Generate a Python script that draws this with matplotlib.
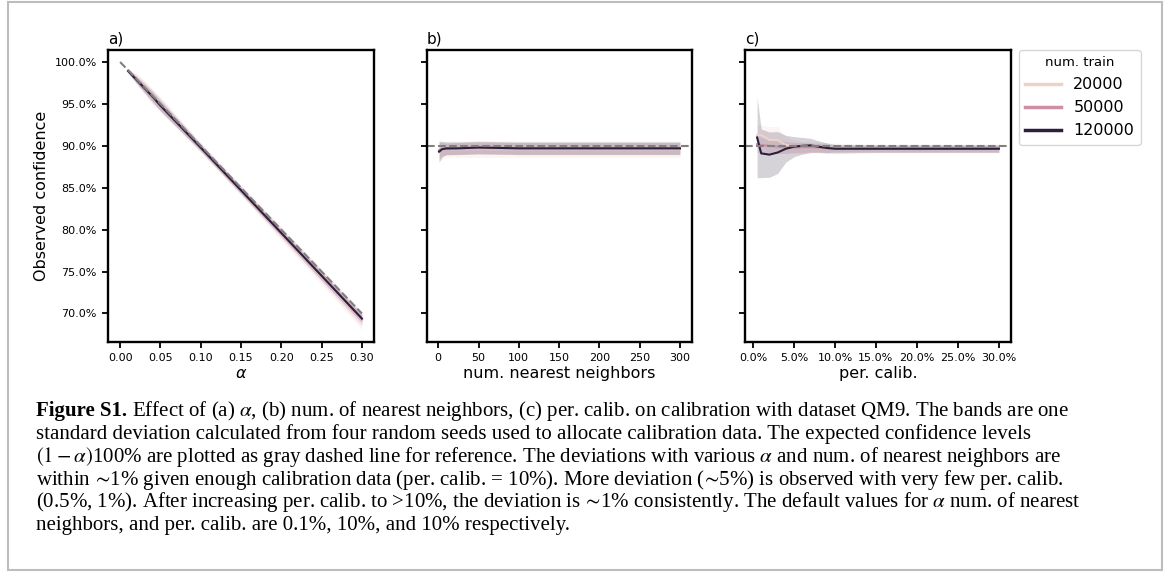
import matplotlib
matplotlib.use("Agg")
import matplotlib.pyplot as plt
from matplotlib.patches import Rectangle
from matplotlib.ticker import PercentFormatter
import seaborn as sns

# hue levels (num. train)
train_sizes = [20000, 50000, 120000]

# a) alpha sweep
alpha_vals = [0.01, 0.02, 0.03, 0.04, 0.05, 0.10, 0.15, 0.20, 0.25, 0.30]
conf_a_20k = [0.990, 0.980, 0.970, 0.959, 0.949, 0.898, 0.847, 0.795, 0.744, 0.692]
conf_a_50k = [0.990, 0.980, 0.970, 0.959, 0.949, 0.898, 0.847, 0.796, 0.745, 0.693]
conf_a_120k = [0.989, 0.979, 0.969, 0.959, 0.948, 0.898, 0.847, 0.796, 0.745, 0.694]
sd_a_20k = [0.003, 0.006, 0.008, 0.009, 0.009, 0.006, 0.006, 0.008, 0.009, 0.011]
sd_a_50k = [0.002, 0.005, 0.007, 0.008, 0.008, 0.005, 0.005, 0.006, 0.007, 0.008]
sd_a_120k = [0.002, 0.004, 0.005, 0.006, 0.006, 0.004, 0.004, 0.004, 0.005, 0.005]

# b) nearest neighbours sweep
knn_vals = [1, 5, 10, 25, 50, 100, 150, 200, 250, 300]
conf_b_20k = [0.894, 0.895, 0.896, 0.896, 0.896, 0.896, 0.896, 0.896, 0.896, 0.896]
conf_b_50k = [0.895, 0.896, 0.896, 0.897, 0.897, 0.897, 0.897, 0.897, 0.897, 0.897]
conf_b_120k = [0.893, 0.896, 0.897, 0.897, 0.898, 0.897, 0.897, 0.897, 0.897, 0.897]
sd_b_20k = [0.014, 0.011, 0.010, 0.010, 0.010, 0.010, 0.010, 0.010, 0.010, 0.010]
sd_b_50k = [0.010, 0.008, 0.007, 0.007, 0.007, 0.007, 0.007, 0.007, 0.007, 0.007]
sd_b_120k = [0.012, 0.009, 0.0075, 0.0075, 0.0075, 0.0075, 0.0075, 0.0075, 0.0075, 0.0075]

# c) calibration fraction sweep
calib_vals = [0.005, 0.01, 0.02, 0.03, 0.04, 0.05, 0.06, 0.07, 0.08, 0.09,
              0.10, 0.15, 0.20, 0.25, 0.30]
conf_c_20k = [0.913, 0.913, 0.907, 0.907, 0.901, 0.899, 0.898, 0.898, 0.898, 0.898,
              0.897, 0.897, 0.897, 0.897, 0.897]
conf_c_50k = [0.902, 0.901, 0.900, 0.899, 0.898, 0.898, 0.898, 0.898, 0.898, 0.897,
              0.897, 0.897, 0.897, 0.897, 0.897]
conf_c_120k = [0.910, 0.891, 0.8895, 0.892, 0.8965, 0.899, 0.900, 0.9005, 0.899, 0.8975,
               0.8965, 0.8965, 0.8965, 0.8965, 0.8965]
sd_c_20k = [0.012, 0.012, 0.016, 0.016, 0.010, 0.008, 0.007, 0.007, 0.006, 0.006,
            0.006, 0.005, 0.005, 0.005, 0.005]
sd_c_50k = [0.010, 0.009, 0.008, 0.008, 0.007, 0.006, 0.006, 0.005, 0.005, 0.005,
            0.004, 0.004, 0.004, 0.004, 0.004]
sd_c_120k = [0.048, 0.029, 0.027, 0.025, 0.016, 0.012, 0.010, 0.0085, 0.007, 0.006,
             0.005, 0.0045, 0.0045, 0.0045, 0.0045]

caption_bold = "Figure S1."
caption_lines = [
    r" Effect of (a) $\alpha$, (b) num. of nearest neighbors, (c) per. calib. on calibration with dataset QM9. The bands are one",
    "standard deviation calculated from four random seeds used to allocate calibration data. The expected confidence levels",
    r"$(1-\alpha)$100% are plotted as gray dashed line for reference. The deviations with various $\alpha$ and num. of nearest neighbors are",
    r"within $\!\sim\!$1% given enough calibration data (per. calib. = 10%). More deviation ($\!\sim\!$5%) is observed with very few per. calib.",
    r"(0.5%, 1%). After increasing per. calib. to >10%, the deviation is $\!\sim\!$1% consistently. The default values for $\alpha$ num. of nearest",
    "neighbors, and per. calib. are 0.1%, 10%, and 10% respectively.",
]

cmap = sns.cubehelix_palette(as_cmap=True)
lo, hi = min(train_sizes), max(train_sizes)
colors = [cmap((n - lo) / (hi - lo)) for n in train_sizes]

W, H = 1170, 572
fig = plt.figure(figsize=(W / 100, H / 100), dpi=100)
fig.patch.set_facecolor("white")

def px_axes(left, right, top, bottom):
    return fig.add_axes([left / W, (H - bottom) / H, (right - left) / W, (bottom - top) / H])

ax_a = px_axes(108, 374, 50, 342)
ax_b = px_axes(427, 692, 50, 342)
ax_c = px_axes(745, 1011, 50, 342)

panels = [
    (ax_a, alpha_vals, [conf_a_20k, conf_a_50k, conf_a_120k], [sd_a_20k, sd_a_50k, sd_a_120k]),
    (ax_b, knn_vals, [conf_b_20k, conf_b_50k, conf_b_120k], [sd_b_20k, sd_b_50k, sd_b_120k]),
    (ax_c, calib_vals, [conf_c_20k, conf_c_50k, conf_c_120k], [sd_c_20k, sd_c_50k, sd_c_120k]),
]

for ax, xs, means, sds in panels:
    for n, col, m, s in zip(train_sizes, colors, means, sds):
        low = [a - b for a, b in zip(m, s)]
        up = [a + b for a, b in zip(m, s)]
        ax.fill_between(xs, low, up, color=col, alpha=0.2, linewidth=0)
        ax.plot(xs, m, color=col, lw=1.5, label=str(n))

# expected confidence
ax_a.plot([0, 0.30], [1.0, 0.70], color="gray", ls="--", lw=1.5)
ax_b.axhline(0.9, color="gray", ls="--", lw=1.5)
ax_c.axhline(0.9, color="gray", ls="--", lw=1.5)

for ax, lab in zip([ax_a, ax_b, ax_c], ["a)", "b)", "c)"]):
    ax.set_ylim(0.666, 1.0143)
    ax.set_yticks([0.70, 0.75, 0.80, 0.85, 0.90, 0.95, 1.00])
    ax.yaxis.set_major_formatter(PercentFormatter(1.0, decimals=1))
    ax.tick_params(labelsize=8, width=1.3, length=4.5)
    for sp in ax.spines.values():
        sp.set_linewidth(1.7)
    ax.set_title(lab, loc="left", fontsize=11, pad=5)

ax_a.set_xlim(-0.015, 0.315)
ax_a.set_xticks([0.0, 0.05, 0.10, 0.15, 0.20, 0.25, 0.30])
ax_a.set_xticklabels(["%.2f" % v for v in [0.0, 0.05, 0.10, 0.15, 0.20, 0.25, 0.30]])
ax_b.set_xticks([0, 50, 100, 150, 200, 250, 300])
ax_c.set_xticks([0.0, 0.05, 0.10, 0.15, 0.20, 0.25, 0.30])
ax_c.xaxis.set_major_formatter(PercentFormatter(1.0, decimals=1))
ax_b.tick_params(labelleft=False)
ax_c.tick_params(labelleft=False)

ax_a.set_ylabel("Observed confidence", fontsize=11.5)
ax_a.set_xlabel(r"$\alpha$", fontsize=11.5, labelpad=2)
ax_b.set_xlabel("num. nearest neighbors", fontsize=11.5, labelpad=2)
ax_c.set_xlabel("per. calib.", fontsize=11.5, labelpad=2)

leg = ax_c.legend(title="num. train", loc="upper left", bbox_to_anchor=(1.03, 1.0),
                  borderaxespad=0, fontsize=11.5, title_fontsize=9.5,
                  handlelength=2.2, frameon=True)
for line in leg.get_lines():
    line.set_linewidth(2.5)

# caption
cap_size = 15.05
cap_family = ["Liberation Serif", "DejaVu Serif"]
x0 = 36 / W
baselines = [416, 439, 462, 484.5, 507, 530]
tb = fig.text(x0, (H - baselines[0]) / H, caption_bold, fontsize=cap_size,
              family=cap_family, weight="bold", va="baseline")
fig.canvas.draw()
bb = tb.get_window_extent()
fig.text(bb.x1 / W, (H - baselines[0]) / H, caption_lines[0], fontsize=cap_size,
         family=cap_family, va="baseline", math_fontfamily="stix")
for line, yb in zip(caption_lines[1:], baselines[1:]):
    fig.text(x0, (H - yb) / H, line, fontsize=cap_size, family=cap_family,
             va="baseline", math_fontfamily="stix")

# page frame
fig.patches.append(Rectangle((8 / W, 2 / H), (1162 - 8) / W, (570 - 2) / H,
                             transform=fig.transFigure, fill=False,
                             edgecolor="#bdbdbd", lw=1.5))

fig.savefig("out.png", dpi=100)
